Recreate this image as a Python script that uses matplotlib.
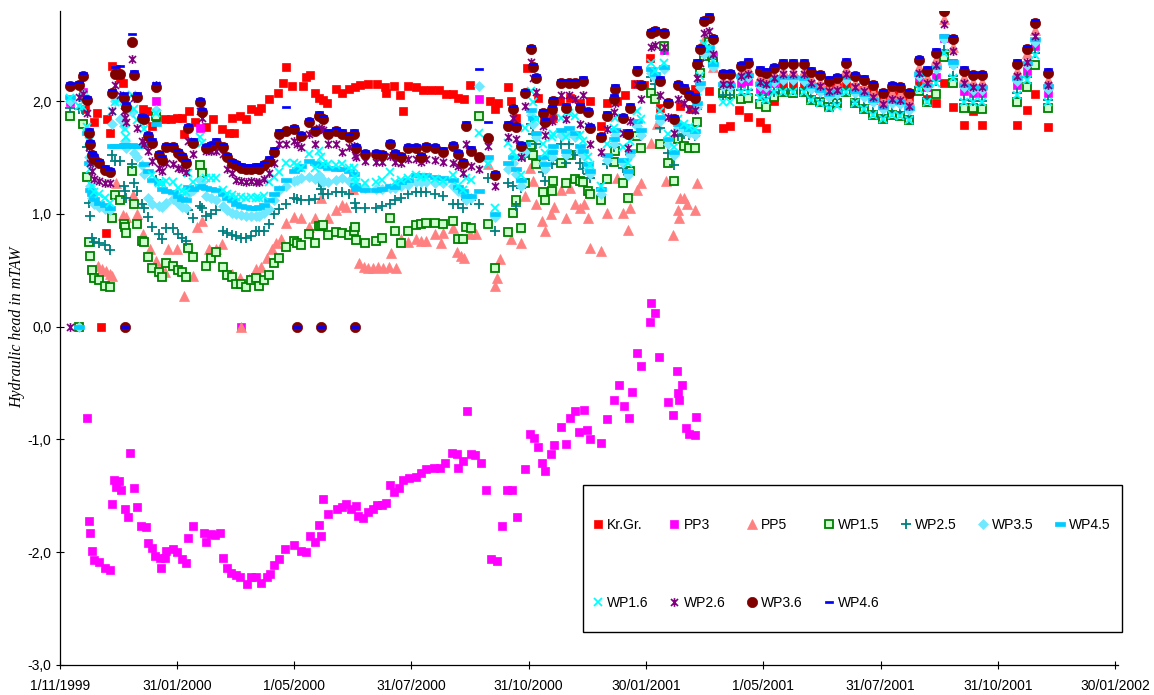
import datetime as dt

import numpy as np
import matplotlib
matplotlib.use("Agg")
import matplotlib.pyplot as plt
import matplotlib.dates as mdates
from matplotlib.path import Path
from matplotlib.patches import Rectangle
from matplotlib.ticker import FixedLocator, FuncFormatter

plt.rcParams["font.family"] = ["Liberation Sans", "DejaVu Sans"]

# ---------------------------------------------------------------------------
# Measurements: day numbers are counted from 1 November 1999
# ---------------------------------------------------------------------------
START = dt.datetime(1999, 11, 1)

# common measurement days of the WP piezometers
wp_days = [
    8, 15, 18, 21, 23, 24, 25, 27, 31, 35,
    39, 41, 43, 47, 50, 51, 52, 56, 58, 60,
    64, 66, 69, 72, 75, 77, 80, 83, 88, 92,
    95, 98, 100, 104, 109, 111, 114, 118, 122, 127,
    130, 134, 137, 141, 145, 149, 153, 155, 159, 163,
    167, 171, 176, 182, 185, 188, 194, 199, 202, 203,
    205, 209, 215, 220, 225, 229, 230, 231, 238, 246,
    251, 257, 261, 266, 271, 277, 281, 285, 292, 298,
    306, 310, 314, 316, 320, 326, 333, 339, 349, 353,
    355, 359, 362, 367, 368, 371, 376, 378, 383, 384,
    390, 394, 396, 401, 405, 407, 411, 413, 421, 426,
    431, 432, 438, 442, 444, 449, 452, 460, 463, 467,
    470, 473, 478, 481, 486, 490, 494, 496, 498, 501,
    505, 508, 516, 522, 530, 536, 545, 550, 556, 563,
    571, 579, 585, 592, 599, 605, 612, 619, 626, 633,
    641, 648, 654, 661, 669, 675, 682, 688, 695, 704,
    711, 718, 745, 753, 759, 769,
]

wp15 = [
    1.87, 0.00, 1.80, 1.33, 0.75, 0.63, 0.50, 0.43, 0.41, 0.36,
    0.35, 0.96, 1.17, 1.12, 0.91, 0.88, 0.83, 1.38, 1.09, 0.91,
    0.76, 0.75, 0.62, 0.52, 1.87, 0.48, 0.44, 0.56, 0.54, 0.50,
    0.48, 0.44, 0.70, 0.62, 1.43, 1.36, 0.54, 0.61, 0.66, 0.53,
    0.46, 0.44, 0.38, 0.38, 0.35, 0.41, 0.43, 0.36, 0.41, 0.46,
    0.56, 0.61, 0.71, 0.76, 0.74, 0.72, 0.82, 0.74, 0.89, 0.89,
    0.90, 0.81, 0.84, 0.83, 0.81, 0.85, 0.88, 0.77, 0.74, 0.76,
    0.79, 0.96, 0.85, 0.74, 0.85, 0.90, 0.91, 0.92, 0.92, 0.91,
    0.94, 0.78, 0.78, 0.88, 0.87, 1.87, 0.91, 0.52, 0.84, 1.01,
    1.12, 0.87, 1.27, 1.61, 1.52, 1.44, 1.19, 1.12, 1.20, 1.29,
    1.45, 1.27, 1.52, 1.31, 1.29, 1.28, 1.20, 1.18, 1.12, 1.31,
    1.46, 1.56, 1.27, 1.14, 1.38, 1.69, 1.58, 2.07, 2.02, 1.62,
    2.49, 1.45, 1.29, 1.66, 1.60, 1.58, 1.58, 1.81, 2.25, 2.40,
    2.52, 2.34, 2.07, 2.06, 2.02, 2.03, 1.97, 1.95, 2.04, 2.08,
    2.07, 2.08, 2.01, 1.99, 1.95, 1.98, 2.08, 1.98, 1.93, 1.88,
    1.84, 1.88, 1.87, 1.83, 2.09, 1.99, 2.06, 2.39, 2.16, 1.94,
    1.94, 1.93, 1.99, 2.12, 2.32, 1.94,
]

wp25 = [
    1.94, 1.93, 1.92, 1.59, 1.10, 0.98, 0.79, 0.75, 0.74, 0.72,
    0.68, 1.52, 1.47, 1.47, 1.25, 1.20, 1.14, 1.44, 1.27, 1.20,
    1.09, 1.05, 0.97, 0.88, 1.30, 0.82, 0.78, 0.87, 0.87, 0.82,
    0.79, 0.76, 1.03, 0.96, 1.07, 1.05, 0.98, 1.00, 1.03, 0.85,
    0.83, 0.81, 0.80, 0.79, 0.79, 0.80, 0.85, 0.85, 0.85, 0.91,
    1.00, 1.04, 1.09, 1.14, 1.13, 1.12, 1.12, 1.13, 1.28, 1.22,
    1.18, 1.18, 1.19, 1.19, 1.18, 1.25, 1.10, 1.05, 1.05, 1.05,
    1.07, 1.09, 1.12, 1.14, 1.18, 1.19, 1.19, 1.19, 1.18, 1.16,
    1.09, 1.09, 1.05, 1.12, 1.12, 1.09, 1.32, 0.85, 1.27, 1.25,
    1.07, 1.23, 1.50, 1.80, 1.71, 1.62, 1.37, 1.29, 1.44, 1.48,
    1.62, 1.45, 1.62, 1.52, 1.45, 1.40, 1.35, 1.32, 1.23, 1.44,
    1.59, 1.62, 1.41, 1.34, 1.52, 1.78, 1.69, 2.21, 2.15, 1.76,
    2.45, 1.54, 1.43, 1.69, 1.71, 1.70, 1.69, 1.93, 2.15, 2.40,
    2.46, 2.31, 2.05, 2.05, 2.10, 2.10, 2.05, 2.03, 2.08, 2.10,
    2.10, 2.10, 2.03, 2.00, 1.96, 1.98, 2.10, 1.99, 1.95, 1.90,
    1.86, 1.90, 1.89, 1.85, 2.12, 2.02, 2.18, 2.45, 2.22, 2.01,
    2.00, 2.00, 2.07, 2.21, 2.43, 2.01,
]

wp35 = [
    2.00, 0.00, 2.06, 1.75, 1.50, 1.25, 1.14, 1.09, 1.06, 1.04,
    1.03, 1.80, 2.00, 1.84, 1.78, 1.65, 1.58, 1.90, 1.54, 1.50,
    1.43, 1.35, 1.14, 1.09, 1.92, 1.07, 1.06, 1.10, 1.13, 1.10,
    1.06, 1.05, 1.18, 1.21, 1.30, 1.28, 1.16, 1.14, 1.12, 1.07,
    1.03, 1.01, 1.00, 0.99, 0.98, 0.98, 0.98, 0.98, 1.01, 1.04,
    1.12, 1.21, 1.25, 1.29, 1.30, 1.32, 1.33, 1.31, 1.34, 1.32,
    1.28, 1.28, 1.30, 1.32, 1.29, 1.27, 1.25, 1.25, 1.23, 1.22,
    1.22, 1.23, 1.23, 1.25, 1.26, 1.28, 1.28, 1.28, 1.27, 1.27,
    1.25, 1.20, 1.18, 1.12, 1.14, 2.13, 1.48, 0.97, 1.40, 1.45,
    1.35, 1.25, 1.55, 1.88, 1.80, 1.68, 1.45, 1.40, 1.50, 1.56,
    1.70, 1.52, 1.72, 1.68, 1.56, 1.52, 1.40, 1.35, 1.18, 1.48,
    1.62, 1.70, 1.45, 1.34, 1.52, 1.78, 1.70, 2.25, 2.20, 1.82,
    2.28, 1.62, 1.52, 1.76, 1.74, 1.72, 1.70, 1.95, 2.12, 2.42,
    2.45, 2.30, 2.13, 2.12, 2.20, 2.21, 2.13, 2.12, 2.17, 2.19,
    2.19, 2.18, 2.11, 2.08, 2.04, 2.06, 2.19, 2.07, 2.04, 1.99,
    1.93, 1.98, 1.97, 1.92, 2.22, 2.12, 2.28, 2.55, 2.32, 2.12,
    2.10, 2.10, 2.18, 2.32, 2.52, 2.11,
]

wp45 = [
    2.04, 0.00, 2.02, 1.72, 1.45, 1.21, 1.18, 1.13, 1.10, 1.08,
    1.05, 1.60, 1.60, 1.60, 1.61, 1.61, 1.60, 1.61, 1.60, 1.60,
    1.60, 1.44, 1.38, 1.30, 1.80, 1.27, 1.22, 1.20, 1.19, 1.16,
    1.13, 1.12, 1.24, 1.22, 1.25, 1.24, 1.23, 1.22, 1.21, 1.18,
    1.14, 1.12, 1.09, 1.07, 1.06, 1.05, 1.05, 1.06, 1.08, 1.12,
    1.18, 1.23, 1.30, 1.38, 1.40, 1.42, 1.47, 1.45, 1.44, 1.43,
    1.42, 1.41, 1.40, 1.40, 1.38, 1.35, 1.26, 1.22, 1.21, 1.21,
    1.22, 1.25, 1.24, 1.28, 1.30, 1.34, 1.34, 1.34, 1.33, 1.32,
    1.30, 1.24, 1.20, 1.16, 1.16, 1.20, 1.50, 1.00, 1.45, 1.50,
    1.40, 1.30, 1.62, 1.92, 1.85, 1.72, 1.50, 1.44, 1.55, 1.60,
    1.74, 1.56, 1.76, 1.72, 1.60, 1.56, 1.44, 1.38, 1.22, 1.52,
    1.66, 1.74, 1.48, 1.38, 1.56, 1.82, 1.74, 2.28, 2.24, 1.86,
    2.30, 1.66, 1.55, 1.80, 1.78, 1.75, 1.73, 1.98, 2.16, 2.45,
    2.48, 2.33, 2.15, 2.14, 2.22, 2.23, 2.15, 2.14, 2.19, 2.21,
    2.21, 2.20, 2.13, 2.10, 2.06, 2.08, 2.21, 2.09, 2.06, 2.01,
    1.95, 2.00, 1.99, 1.94, 2.24, 2.14, 2.30, 2.58, 2.35, 2.14,
    2.12, 2.12, 2.20, 2.34, 2.55, 2.13,
]

wp16 = [
    2.03, 1.96, 1.95, 1.77, 1.65, 1.40, 1.25, 1.19, 1.18, 1.14,
    1.10, 1.91, 1.99, 2.02, 2.00, 1.75, 1.68, 2.05, 1.93, 1.83,
    1.80, 1.75, 1.68, 1.34, 1.89, 1.27, 1.27, 1.29, 1.28, 1.23,
    1.20, 1.19, 1.36, 1.28, 1.68, 1.63, 1.32, 1.32, 1.32, 1.21,
    1.18, 1.17, 1.15, 1.15, 1.14, 1.15, 1.14, 1.14, 1.16, 1.28,
    1.33, 1.37, 1.45, 1.45, 1.43, 1.41, 1.53, 1.41, 1.56, 1.50,
    1.44, 1.44, 1.43, 1.44, 1.41, 1.41, 1.33, 1.28, 1.27, 1.28,
    1.30, 1.37, 1.28, 1.30, 1.32, 1.34, 1.33, 1.33, 1.31, 1.29,
    1.34, 1.25, 1.21, 1.32, 1.30, 1.72, 1.44, 1.05, 1.63, 1.55,
    1.50, 1.34, 1.76, 2.09, 1.99, 1.84, 1.62, 1.54, 1.68, 1.71,
    1.85, 1.68, 1.89, 1.87, 1.70, 1.65, 1.50, 1.43, 1.25, 1.62,
    1.76, 1.85, 1.59, 1.45, 1.65, 1.91, 1.84, 2.34, 2.27, 1.91,
    2.34, 1.71, 1.59, 1.84, 1.80, 1.77, 1.75, 2.03, 2.22, 2.51,
    2.47, 2.36, 1.99, 1.99, 2.08, 2.08, 2.03, 2.01, 2.08, 2.08,
    2.08, 2.08, 2.01, 1.98, 1.94, 1.96, 2.08, 1.98, 1.93, 1.88,
    1.84, 1.88, 1.87, 1.83, 2.11, 1.99, 2.16, 2.43, 2.20, 1.99,
    1.99, 1.99, 2.05, 2.19, 2.41, 1.99,
]

wp26 = [
    0.00, 2.04, 2.06, 1.89, 1.59, 1.45, 1.38, 1.31, 1.29, 1.27,
    1.27, 1.91, 2.14, 2.05, 1.91, 1.85, 1.81, 2.37, 2.03, 1.76,
    1.65, 1.62, 1.56, 1.47, 2.14, 1.41, 1.38, 1.45, 1.44, 1.41,
    1.40, 1.37, 1.65, 1.53, 1.91, 1.85, 1.56, 1.56, 1.56, 1.53,
    1.40, 1.36, 1.30, 1.29, 1.28, 1.29, 1.28, 1.28, 1.31, 1.36,
    1.45, 1.62, 1.62, 1.65, 1.62, 1.59, 1.71, 1.62, 1.76, 1.75,
    1.74, 1.62, 1.62, 1.55, 1.59, 1.60, 1.52, 1.50, 1.47, 1.46,
    1.46, 1.51, 1.46, 1.45, 1.49, 1.49, 1.46, 1.49, 1.48, 1.46,
    1.45, 1.42, 1.36, 1.62, 1.42, 1.40, 1.60, 1.25, 1.68, 1.85,
    1.66, 1.50, 1.96, 2.35, 2.20, 2.08, 1.78, 1.70, 1.82, 1.88,
    2.05, 1.84, 2.05, 2.02, 1.80, 2.05, 1.78, 1.62, 1.55, 1.75,
    1.90, 1.98, 1.72, 1.58, 1.82, 2.15, 2.02, 2.48, 2.50, 2.05,
    2.48, 1.86, 1.72, 2.02, 1.98, 1.93, 1.92, 2.20, 2.34, 2.60,
    2.62, 2.42, 2.15, 2.15, 2.22, 2.24, 2.17, 2.15, 2.20, 2.24,
    2.24, 2.24, 2.16, 2.13, 2.09, 2.10, 2.24, 2.12, 2.09, 2.04,
    1.97, 2.02, 2.01, 1.96, 2.25, 2.16, 2.32, 2.68, 2.44, 2.16,
    2.12, 2.12, 2.22, 2.35, 2.58, 2.14,
]

wp36 = [
    2.13, 2.14, 2.22, 2.01, 1.72, 1.62, 1.52, 1.49, 1.45, 1.39,
    1.37, 2.07, 2.24, 2.24, 2.03, 0.00, 1.95, 2.52, 2.23, 2.04,
    1.85, 1.84, 1.69, 1.63, 2.12, 1.52, 1.48, 1.59, 1.59, 1.54,
    1.50, 1.45, 1.76, 1.63, 1.99, 1.90, 1.58, 1.60, 1.63, 1.59,
    1.50, 1.45, 1.43, 1.41, 1.40, 1.40, 1.41, 1.40, 1.43, 1.47,
    1.55, 1.71, 1.73, 1.75, 0.00, 1.69, 1.81, 1.73, 1.87, 0.00,
    1.84, 1.71, 1.73, 1.71, 1.68, 1.71, 0.00, 1.58, 1.53, 1.53,
    1.52, 1.62, 1.53, 1.50, 1.58, 1.58, 1.50, 1.59, 1.58, 1.55,
    1.60, 1.53, 1.45, 1.78, 1.56, 1.50, 1.67, 1.34, 1.78, 1.93,
    1.77, 1.60, 2.07, 2.46, 2.30, 2.20, 1.89, 1.81, 1.93, 2.00,
    2.16, 1.94, 2.16, 2.16, 1.94, 2.18, 1.90, 1.76, 1.68, 1.87,
    2.02, 2.11, 1.85, 1.71, 1.94, 2.27, 2.14, 2.60, 2.62, 2.18,
    2.60, 1.98, 1.84, 2.14, 2.11, 2.05, 2.03, 2.33, 2.46, 2.71,
    2.74, 2.55, 2.24, 2.24, 2.31, 2.34, 2.27, 2.25, 2.29, 2.33,
    2.33, 2.33, 2.26, 2.23, 2.18, 2.20, 2.34, 2.22, 2.19, 2.14,
    2.07, 2.13, 2.12, 2.07, 2.36, 2.27, 2.43, 2.80, 2.55, 2.27,
    2.23, 2.23, 2.33, 2.46, 2.69, 2.25,
]

wp46 = [
    2.16, 2.17, 2.25, 2.04, 1.75, 1.65, 1.55, 1.52, 1.48, 1.42,
    1.40, 2.10, 2.30, 2.31, 2.07, 0.00, 1.98, 2.59, 2.27, 2.07,
    1.88, 1.87, 1.72, 1.66, 2.16, 1.55, 1.51, 1.62, 1.62, 1.57,
    1.53, 1.48, 1.79, 1.66, 2.02, 1.93, 1.61, 1.63, 1.66, 1.62,
    1.53, 1.48, 1.46, 1.44, 1.43, 1.43, 1.44, 1.43, 1.46, 1.50,
    1.58, 1.74, 1.95, 1.78, 0.00, 1.72, 1.84, 1.76, 1.90, 0.00,
    1.87, 1.74, 1.76, 1.74, 1.71, 1.74, 0.00, 1.61, 1.56, 1.56,
    1.55, 1.65, 1.56, 1.53, 1.61, 1.61, 1.53, 1.62, 1.61, 1.58,
    1.63, 1.56, 1.48, 1.81, 1.59, 2.28, 1.81, 1.37, 1.81, 1.96,
    1.80, 1.63, 2.10, 2.49, 2.33, 2.23, 1.92, 1.84, 1.96, 2.03,
    2.19, 1.97, 2.19, 2.19, 1.97, 2.21, 1.93, 1.79, 1.71, 1.90,
    2.05, 2.14, 1.88, 1.74, 1.97, 2.30, 2.17, 2.63, 2.65, 2.21,
    2.63, 2.01, 1.87, 2.17, 2.14, 2.08, 2.06, 2.36, 2.49, 2.74,
    2.77, 2.58, 2.27, 2.27, 2.34, 2.37, 2.30, 2.28, 2.32, 2.36,
    2.36, 2.36, 2.29, 2.26, 2.21, 2.23, 2.37, 2.25, 2.22, 2.17,
    2.10, 2.16, 2.15, 2.10, 2.39, 2.30, 2.46, 2.83, 2.58, 2.30,
    2.26, 2.26, 2.36, 2.49, 2.72, 2.28,
]

# Kr.Gr. gauge
krgr_days = [
    20, 27, 29, 32, 36, 37, 39, 41, 44, 47,
    49, 65, 68, 72, 75, 82, 87, 91, 95, 97,
    101, 105, 114, 119, 126, 132, 134, 136, 140, 145,
    149, 154, 157, 163, 170, 174, 176, 181, 189, 192,
    195, 199, 202, 205, 208, 215, 220, 225, 230, 234,
    240, 247, 253, 254, 260, 265, 267, 271, 277, 283,
    289, 295, 301, 306, 310, 315, 319, 335, 339, 341,
    349, 351, 355, 364, 372, 377, 384, 389, 397, 405,
    413, 421, 426, 434, 440, 448, 455, 459, 467, 483,
    491, 494, 505, 507, 516, 522, 529, 536, 545, 550,
    556, 563, 571, 579, 585, 592, 599, 605, 612, 619,
    626, 633, 641, 648, 654, 661, 669, 675, 682, 688,
    695, 704, 711, 718, 745, 753, 759, 769,
]
krgr = [
    1.93, 1.81, 1.89, 0.00, 0.83, 1.84, 1.72, 2.31, 2.28, 2.20,
    2.16, 1.93, 1.91, 1.78, 1.85, 1.84, 1.84, 1.85, 1.85, 1.71,
    1.91, 1.81, 1.77, 1.84, 1.75, 1.72, 1.85, 1.72, 1.87, 1.84,
    1.93, 1.91, 1.94, 2.02, 2.07, 2.16, 2.30, 2.13, 2.13, 2.21,
    2.23, 2.07, 2.03, 2.01, 1.98, 2.11, 2.07, 2.11, 2.12, 2.14,
    2.15, 2.15, 2.12, 2.07, 2.13, 2.05, 1.91, 2.13, 2.12, 2.10,
    2.10, 2.10, 2.06, 2.06, 2.03, 2.02, 2.14, 2.00, 1.93, 1.98,
    2.12, 2.00, 1.85, 2.29, 2.03, 1.87, 1.85, 2.00, 2.03, 1.98,
    2.00, 1.78, 1.98, 2.00, 2.05, 2.15, 2.14, 2.38, 1.94, 1.96,
    1.93, 2.11, 2.09, 1.94, 1.76, 1.78, 1.92, 1.86, 1.81, 1.76,
    2.00, 2.12, 2.15, 2.15, 2.12, 2.10, 2.10, 2.12, 2.16, 2.12,
    2.10, 2.08, 2.04, 2.07, 2.07, 2.04, 2.14, 2.02, 1.98, 2.16,
    1.95, 1.79, 1.91, 1.79, 1.79, 1.92, 2.06, 1.77,
]

# PP3 pore-pressure piezometer
pp3_days = [
    8, 18, 21, 23, 24, 25, 27, 31, 35, 39,
    41, 42, 44, 46, 48, 51, 53, 55, 58, 60,
    63, 67, 69, 72, 74, 75, 78, 79, 82, 83,
    88, 91, 95, 98, 100, 104, 109, 112, 114, 118,
    121, 125, 127, 130, 133, 137, 140, 141, 146, 149,
    153, 157, 161, 164, 167, 171, 175, 182, 188, 192,
    195, 199, 202, 203, 205, 209, 216, 220, 223, 227,
    231, 232, 236, 240, 244, 247, 251, 254, 257, 260,
    264, 267, 272, 277, 281, 285, 291, 296, 300, 305,
    309, 310, 314, 317, 320, 323, 326, 328, 332, 336,
    340, 344, 348, 352, 356, 362, 366, 369, 372, 375,
    378, 382, 385, 390, 394, 397, 401, 404, 408, 410,
    413, 421, 426, 431, 435, 439, 443, 445, 449, 452,
    459, 460, 463, 466, 470, 473, 477, 480, 481, 482,
    484, 487, 490, 494, 495, 505, 508, 516, 522, 530,
    536, 545, 550, 556, 563, 571, 579, 585, 592, 599,
    605, 612, 619, 626, 633, 641, 648, 654, 661, 669,
    675, 682, 688, 695, 704, 711, 718, 745, 753, 759,
    769,
]
pp3 = [
    1.99, 2.08, -0.81, -1.72, -1.83, -1.99, -2.07, -2.09, -2.14, -2.16,
    -1.57, -1.36, -1.42, -1.37, -1.45, -1.62, -1.69, -1.12, -1.43, -1.60,
    -1.77, -1.78, -1.92, -1.96, -2.03, 2.00, -2.05, -2.14, -2.05, -1.99,
    -1.97, -2.00, -2.06, -2.10, -1.87, -1.77, 1.76, -1.83, -1.91, -1.84,
    -1.85, -1.83, -2.05, -2.14, -2.18, -2.20, -2.22, 0.00, -2.28, -2.22,
    -2.22, -2.27, -2.22, -2.19, -2.11, -2.06, -1.97, -1.94, -1.99, -2.00,
    -1.86, -1.91, -1.76, -1.86, -1.53, -1.66, -1.62, -1.60, -1.57, -1.62,
    -1.59, -1.68, -1.70, -1.64, -1.62, -1.58, -1.58, -1.56, -1.40, -1.47,
    -1.43, -1.36, -1.34, -1.33, -1.30, -1.26, -1.25, -1.25, -1.21, -1.12,
    -1.13, -1.25, -1.19, -0.75, -1.13, -1.14, 2.02, -1.21, -1.45, -2.06,
    -2.08, -1.77, -1.45, -1.45, -1.69, -1.26, -0.95, -0.99, -1.07, -1.21,
    -1.28, -1.13, -1.05, -0.89, -1.04, -0.81, -0.75, -0.93, -0.74, -0.92,
    -1.00, -1.03, -0.82, -0.65, -0.52, -0.70, -0.81, -0.58, -0.23, -0.35,
    0.04, 0.21, 0.12, -0.27, 2.45, -0.67, -0.78, -0.39, -0.59, -0.65,
    -0.52, -0.90, -0.95, -0.96, -0.80, 2.50, 2.40, 2.12, 2.13, 2.16,
    2.18, 2.11, 2.09, 2.16, 2.20, 2.20, 2.20, 2.13, 2.12, 2.08,
    2.10, 2.21, 2.11, 2.07, 2.01, 1.97, 2.02, 2.00, 1.96, 2.21,
    2.12, 2.21, 2.56, 2.34, 2.09, 2.07, 2.07, 2.14, 2.27, 2.49,
    2.07,
]

# PP5 pore-pressure piezometer
pp5_days = [
    30, 33, 36, 39, 41, 44, 49, 52, 57, 60,
    65, 70, 75, 82, 84, 91, 97, 104, 107, 111,
    116, 122, 126, 134, 140, 141, 147, 153, 157, 161,
    165, 168, 172, 176, 182, 188, 194, 199, 203, 209,
    215, 220, 223, 228, 233, 237, 240, 244, 248, 252,
    256, 258, 262, 266, 271, 277, 281, 285, 292, 297,
    298, 306, 309, 312, 315, 319, 324, 333, 339, 340,
    343, 351, 359, 362, 366, 368, 371, 375, 378, 382,
    385, 390, 394, 397, 401, 405, 408, 411, 413, 421,
    426, 434, 438, 442, 444, 449, 452, 460, 465, 472,
    477, 481, 482, 483, 486, 488, 494, 496, 501, 505,
    508, 516, 522, 530, 536, 545, 550, 556, 563, 571,
    579, 585, 592, 599, 605, 612, 619, 626, 633, 641,
    648, 654, 661, 669, 675, 682, 688, 695, 704, 711,
    718, 745, 753, 759, 769,
]
pp5 = [
    0.54, 0.51, 0.49, 0.47, 0.45, 1.27, 0.99, 0.97, 1.17, 1.00,
    0.82, 0.69, 0.58, 0.48, 0.69, 0.69, 0.27, 0.45, 0.88, 0.94,
    0.69, 0.69, 0.73, 0.47, 0.43, 0.00, 0.42, 0.51, 0.53, 0.61,
    0.69, 0.74, 0.78, 0.92, 0.97, 0.96, 0.88, 0.96, 1.14, 0.96,
    1.03, 1.08, 1.06, 1.22, 0.56, 0.53, 0.52, 0.52, 0.53, 0.52,
    0.53, 0.65, 0.52, 0.78, 0.75, 0.78, 0.76, 0.76, 0.82, 0.74,
    0.83, 0.87, 0.66, 0.63, 0.61, 0.82, 0.82, 1.44, 0.36, 0.43,
    0.60, 0.78, 0.74, 1.16, 1.41, 1.29, 1.09, 0.94, 0.85, 1.00,
    1.06, 1.21, 0.96, 1.23, 1.09, 1.05, 1.09, 0.96, 0.70, 0.67,
    1.01, 1.32, 1.01, 0.86, 1.05, 1.21, 1.27, 1.63, 1.80, 1.29,
    0.81, 1.03, 0.96, 1.14, 1.14, 1.09, 1.03, 1.27, 2.55, 2.45,
    2.30, 2.18, 2.18, 2.26, 2.28, 2.21, 2.19, 2.24, 2.27, 2.27,
    2.27, 2.20, 2.17, 2.12, 2.14, 2.28, 2.16, 2.13, 2.08, 2.02,
    2.07, 2.06, 2.01, 2.30, 2.21, 2.37, 2.73, 2.48, 2.21, 2.17,
    2.17, 2.27, 2.43, 2.63, 2.19,
]

y_ticks = [-3, -2, -1, 0, 1, 2]
y_label = "Hydraulic head in mTAW"

# ---------------------------------------------------------------------------
# Marker shapes
# ---------------------------------------------------------------------------
STAR = Path([(-1, -1), (1, 1), (-1, 1), (1, -1), (0, -1.25), (0, 1.25)],
            [Path.MOVETO, Path.LINETO] * 3)
DASH = Path([(-1, -0.32), (1, -0.32), (1, 0.32), (-1, 0.32), (-1, -0.32)],
            [Path.MOVETO, Path.LINETO, Path.LINETO, Path.LINETO, Path.CLOSEPOLY])

series = [
    ("Kr.Gr.", krgr_days, krgr, dict(marker="s", ms=6.3, mfc="#ff0000", mec="#ff0000", mew=0.5)),
    ("PP3", pp3_days, pp3, dict(marker="s", ms=6.3, mfc="#ff00ff", mec="#ff00ff", mew=0.5)),
    ("PP5", pp5_days, pp5, dict(marker="^", ms=7.0, mfc="#ff8080", mec="#ff8080", mew=0.5)),
    ("WP1.5", wp_days, wp15, dict(marker="s", ms=6.0, mfc="#ccffcc", mec="#008000", mew=1.3)),
    ("WP2.5", wp_days, wp25, dict(marker="+", ms=7.2, mfc="#008080", mec="#008080", mew=1.3)),
    ("WP3.5", wp_days, wp35, dict(marker="D", ms=5.6, mfc="#6ee9ff", mec="#6ee9ff", mew=0.5)),
    ("WP4.5", wp_days, wp45, dict(marker=DASH, ms=6.8, mfc="#00ccff", mec="#00ccff", mew=0.5)),
    ("WP1.6", wp_days, wp16, dict(marker="x", ms=6.3, mfc="#00ffff", mec="#00ffff", mew=1.3)),
    ("WP2.6", wp_days, wp26, dict(marker=STAR, ms=6.3, mfc="none", mec="#800080", mew=1.2)),
    ("WP3.6", wp_days, wp36, dict(marker="o", ms=7.4, mfc="#800000", mec="#800000", mew=0.5)),
    ("WP4.6", wp_days, wp46, dict(marker=DASH, ms=5.2, mfc="#0000ff", mec="#0000ff", mew=0.5)),
]

W, H = 1154, 695
fig = plt.figure(figsize=(W / 100, H / 100), dpi=100, facecolor="white")
ax_left, ax_right, ax_top, ax_bottom = 59.6, 1118.0, 10.8, 665.0
ax = fig.add_axes([ax_left / W, (H - ax_bottom) / H,
                   (ax_right - ax_left) / W, (ax_bottom - ax_top) / H])

t0 = mdates.date2num(START)
handles = {}
for name, days, vals, style in series:
    assert len(days) == len(vals), name
    (ln,) = ax.plot(t0 + np.asarray(days, float), vals, linestyle="none",
                    label=name, **style)
    handles[name] = ln

# x axis: major unit of 91.25 days from 1/11/1999
x_ticks = [t0 + k * 91.25 for k in range(10)]
ax.set_xlim(t0, t0 + 823.5)
ax.xaxis.set_major_locator(FixedLocator(x_ticks))


def fmt_date(x, pos=None):
    d = mdates.num2date(x)
    return f"{d.day}/{d.month:02d}/{d.year}"


ax.xaxis.set_major_formatter(FuncFormatter(fmt_date))

ax.set_ylim(-3.0, 2.8)
ax.yaxis.set_major_locator(FixedLocator(y_ticks))
ax.yaxis.set_major_formatter(FuncFormatter(lambda v, p: f"{v:.1f}".replace(".", ",")))

for side in ("top", "right"):
    ax.spines[side].set_visible(False)
for side in ("left", "bottom"):
    ax.spines[side].set_color("black")
    ax.spines[side].set_linewidth(0.9)

ax.tick_params(axis="both", direction="inout", length=6, width=0.8,
               colors="black", labelsize=10)
ax.tick_params(axis="x", pad=7)
ax.tick_params(axis="y", pad=3)

ax.set_ylabel(y_label, family=["Liberation Serif", "DejaVu Serif"],
              style="italic", fontsize=11.4, va="center")
ax.yaxis.set_label_coords((17 - ax_left) / (ax_right - ax_left),
                          (ax_bottom - 327) / (ax_bottom - ax_top))

# legend box
box = Rectangle((583 / W, (H - 632) / H), (1122 - 583) / W, (632 - 485) / H,
                transform=fig.transFigure, facecolor="white",
                edgecolor="black", linewidth=1.0, zorder=5)
fig.add_artist(box)

order = ["Kr.Gr.", "WP1.6", "PP3", "WP2.6", "PP5", "WP3.6",
         "WP1.5", "WP4.6", "WP2.5", "WP3.5", "WP4.5"]
leg = fig.legend([handles[n] for n in order], order, ncol=7,
                 loc="upper left", bbox_to_anchor=(592 / W, (H - 518) / H),
                 bbox_transform=fig.transFigure, frameon=False,
                 borderpad=0, borderaxespad=0, fontsize=10,
                 handlelength=0.8, handletextpad=0.25, columnspacing=1.5,
                 labelspacing=4.6, numpoints=1)
leg.set_zorder(6)

fig.savefig("out.png", dpi=100, facecolor="white")
